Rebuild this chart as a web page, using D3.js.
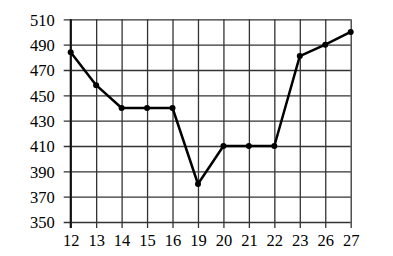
<!DOCTYPE html>
<html>
<head>
<meta charset="utf-8">
<script src="https://cdn.jsdelivr.net/npm/d3@7"></script>
<style>
 body{margin:0;background:#fff;}
 svg{display:block;}
</style>
</head>
<body>
<script>
// categories and values
const days=["12","13","14","15","16","19","20","21","22","23","26","27"];
const values=[484,458,440,440,440,380,410,410,410,481,490,500];
const yTicks=[350,370,390,410,430,450,470,490,510];

const W=393,H=256;
const box={left:70.7,right:350.7,top:19.3,bottom:222};
const font="Liberation Serif";

const svg=d3.select("body").append("svg").attr("width",W).attr("height",H);

const x=d3.scalePoint().domain(days).range([box.left,box.right]).padding(0);
const y=d3.scaleLinear().domain([350,510]).range([box.bottom,box.top]);

// y axis + horizontal grid
const gy=svg.append("g").attr("transform",`translate(${box.left},0)`)
 .call(d3.axisLeft(y).tickValues(yTicks).tickSize(-(box.right-box.left)).tickPadding(16).tickFormat(d3.format("d")))
 .attr("font-family",font).attr("font-size",16.5);
gy.select(".domain").remove();
gy.selectAll(".tick line").attr("x1",-7).attr("stroke","#333").attr("stroke-width",1.3);
gy.selectAll(".tick text").attr("dy","0.35em").attr("fill","#000");

// x axis + vertical grid
const gx=svg.append("g").attr("transform",`translate(0,${box.bottom})`)
 .call(d3.axisBottom(x).tickSize(-(box.bottom-box.top)).tickPadding(12))
 .attr("font-family",font).attr("font-size",16.5);
gx.select(".domain").remove();
gx.selectAll(".tick line").attr("y1",6).attr("stroke","#333").attr("stroke-width",1.3);
gx.selectAll(".tick text").attr("dy","0.71em").attr("fill","#000");

// thicker left axis
svg.append("line").attr("x1",box.left).attr("x2",box.left)
 .attr("y1",box.top).attr("y2",box.bottom+6).attr("stroke","#111").attr("stroke-width",2);

// data line
const pts=days.map((d,i)=>[x(d),y(values[i])]);
svg.append("path").attr("d",d3.line()(pts)).attr("fill","none")
 .attr("stroke","#000").attr("stroke-width",2.5).attr("stroke-linejoin","round");
svg.append("g").selectAll("circle").data(pts).join("circle")
 .attr("cx",d=>d[0]).attr("cy",d=>d[1]).attr("r",3).attr("fill","#000");
</script>
</body>
</html>
